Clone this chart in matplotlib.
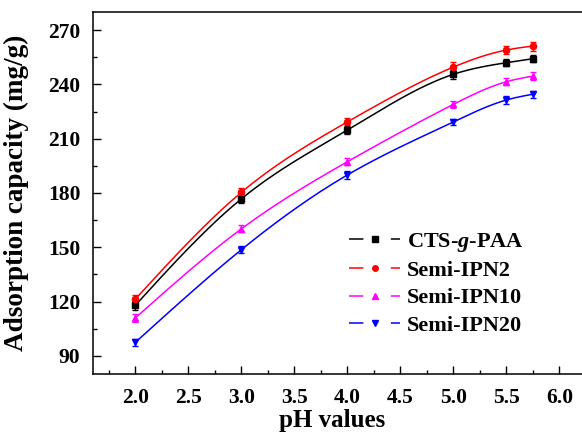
import numpy as np
import matplotlib
matplotlib.use("Agg")
import matplotlib.pyplot as plt
from matplotlib.lines import Line2D

plt.rcParams['font.family'] = ['Liberation Serif', 'DejaVu Serif']
plt.rcParams['font.weight'] = 'bold'
plt.rcParams['mathtext.fontset'] = 'custom'
plt.rcParams['mathtext.rm'] = 'Liberation Serif:bold'
plt.rcParams['mathtext.it'] = 'Liberation Serif:italic:bold'

ph = [2.0, 3.0, 4.0, 5.0, 5.5, 5.75]
cts = [118.0, 176.8, 214.8, 245.6, 252.0, 254.2]
ipn2 = [121.4, 180.4, 219.3, 249.6, 259.0, 261.2]
ipn10 = [111.0, 160.2, 197.3, 229.0, 241.5, 244.6]
ipn20 = [97.5, 148.7, 190.0, 219.3, 231.4, 234.6]
err_cts = [2.5, 2.5, 2.0, 2.5, 2.0, 2.0]
err_ipn2 = [2.5, 2.5, 2.0, 2.5, 2.0, 2.5]
err_ipn10 = [2.0, 2.0, 2.0, 2.0, 2.0, 2.0]
err_ipn20 = [2.0, 2.0, 2.0, 1.5, 2.0, 2.0]

series = [
    ('CTS-$\\mathit{g}$-PAA', cts, err_cts, 'black', 's'),
    ('Semi-IPN2', ipn2, err_ipn2, 'red', 'o'),
    ('Semi-IPN10', ipn10, err_ipn10, '#ff00ff', '^'),
    ('Semi-IPN20', ipn20, err_ipn20, 'blue', 'v'),
]


def natural_spline(x, y, xs):
    x = np.asarray(x, float)
    y = np.asarray(y, float)
    n = len(x)
    h = np.diff(x)
    A = np.zeros((n, n))
    b = np.zeros(n)
    A[0, 0] = A[-1, -1] = 1
    for i in range(1, n - 1):
        A[i, i - 1] = h[i - 1]
        A[i, i] = 2 * (h[i - 1] + h[i])
        A[i, i + 1] = h[i]
        b[i] = 6 * ((y[i + 1] - y[i]) / h[i] - (y[i] - y[i - 1]) / h[i - 1])
    M = np.linalg.solve(A, b)
    idx = np.clip(np.searchsorted(x, xs) - 1, 0, n - 2)
    x0, x1 = x[idx], x[idx + 1]
    hh = x1 - x0
    t0 = x1 - xs
    t1 = xs - x0
    return (M[idx] * t0 ** 3 / (6 * hh) + M[idx + 1] * t1 ** 3 / (6 * hh)
            + (y[idx] / hh - M[idx] * hh / 6) * t0
            + (y[idx + 1] / hh - M[idx + 1] * hh / 6) * t1)


fig = plt.figure(figsize=(5.82, 4.37), dpi=100)
ax = fig.add_axes([93/582, 1 - 374/437, (586-93)/582, (374-12)/437])

handles = []
xs = np.linspace(ph[0], ph[-1], 300)
for label, y, e, c, m in series:
    ax.plot(xs, natural_spline(ph, y, xs), color=c, lw=1.1)
    ax.errorbar(ph, y, yerr=e, fmt=m, color=c, ms=4.5, capsize=2.5,
                elinewidth=1.0, capthick=1.0, lw=0)
    ln = Line2D([], [], color=c, lw=1.1, linestyle=(0, (9.4, 18)))
    mk = Line2D([], [], color=c, marker=m, ms=4, lw=0)
    handles.append((ln, mk))

ax.set_xlim(1.6, 6.25)
ax.set_ylim(80, 280)
ax.set_xticks([2.0, 2.5, 3.0, 3.5, 4.0, 4.5, 5.0, 5.5, 6.0])
ax.set_xticks(np.arange(1.75, 6.26, 0.25), minor=True)
ax.set_yticks([90, 120, 150, 180, 210, 240, 270])
ax.set_yticks(np.arange(105, 280, 15), minor=True)
ax.tick_params(which='both', direction='in', labelsize=15.5, width=1.0)
ax.tick_params(axis='y', pad=9)
ax.tick_params(axis='x', pad=10)
ax.tick_params(which='major', length=6)
ax.tick_params(which='minor', length=3)
for lab in ax.get_xticklabels() + ax.get_yticklabels():
    lab.set_fontweight('bold')
for s in ax.spines.values():
    s.set_linewidth(1.1)
ax.spines['right'].set_visible(False)

ax.set_xlabel('pH values', fontsize=18, fontweight='bold')
ax.set_ylabel('Adsorption capacity (mg/g)', fontsize=19.5, fontweight='bold')
ax.xaxis.set_label_coords((332-93)/493, (374-409)/362)
ax.yaxis.set_label_coords((29-93)/493, 0.5)

leg = ax.legend(handles, [s[0] for s in series], loc='upper left',
                bbox_to_anchor=((349-93)/493, (374-231)/362),
                frameon=False, fontsize=16, handlelength=2.3, handletextpad=0.3,
                labelspacing=0.3, borderaxespad=0, borderpad=0)
for t in leg.get_texts():
    t.set_fontweight('bold')

fig.savefig('out.png', dpi=100)
